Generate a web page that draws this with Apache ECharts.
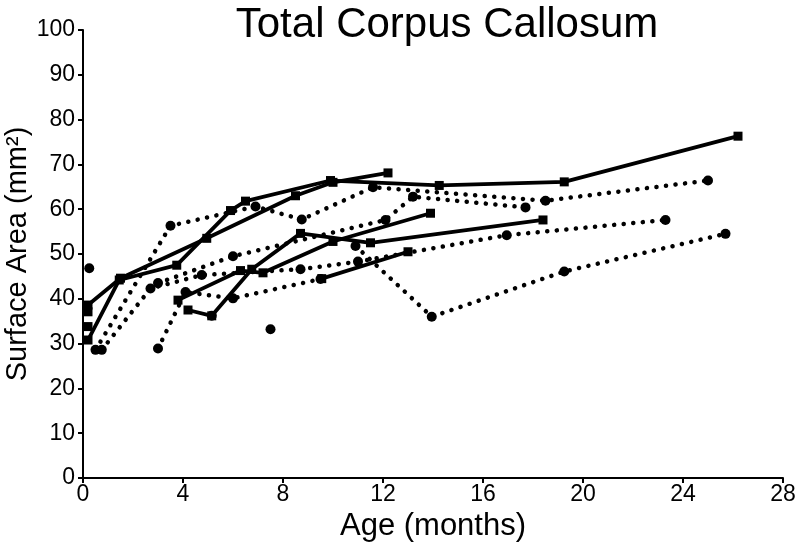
<!DOCTYPE html>
<html>
<head>
<meta charset="utf-8">
<script src="https://cdn.jsdelivr.net/npm/echarts@6/dist/echarts.min.js"></script>
<style>html,body{margin:0;padding:0;background:#fff;}#c{width:800px;height:543px;}</style>
</head>
<body>
<div id="c"></div>
<script>
// ---- data (age in months, surface area in mm^2) ----
const xTicks = [0, 4, 8, 12, 16, 20, 24, 28];
const yTicks = [0, 10, 20, 30, 40, 50, 60, 70, 80, 90, 100];

// solid lines with square markers
const solidA = [[0.2,38.6],[1.5,44.6],[4.95,53.5],[8.5,63.0],[10.0,66.0],[12.2,68.1]];
const solidB = [[0.2,30.8],[1.45,44.2],[3.75,47.5],[5.9,59.7],[6.5,61.8],[9.9,66.4],[14.25,65.3],[19.25,66.1],[26.2,76.3]];
const solidC = [[3.8,39.7],[6.3,46.3],[7.2,45.8],[10.0,52.8],[13.9,59.1]];
const solidD = [[4.2,37.5],[5.15,36.2],[6.75,46.6],[8.7,54.6],[11.5,52.5],[18.4,57.6]];
const solidE = [[9.55,44.5],[13.0,50.5]];
const squaresSingle = [[0.2,33.8],[0.2,37.1]];

// dotted lines with circle markers
const dottedA = [[0.5,28.6],[3.5,56.3],[6.9,60.6],[8.75,57.7],[11.6,64.9],[18.5,61.9],[25.0,66.4]];
const dottedB = [[0.75,28.6],[2.7,42.3],[4.75,45.3],[8.7,46.6],[11.0,48.3],[16.95,54.2],[23.3,57.6]];
const dottedC = [[3.0,28.9],[4.1,41.5],[6.0,40.1],[9.5,44.4]];
const dottedD = [[3.0,43.5],[6.0,49.5],[12.1,57.6],[13.2,62.8],[17.7,60.4]];
const dottedE = [[10.9,51.8],[13.95,36.0],[19.25,46.1],[25.7,54.5]];
const dotsSingle = [[0.25,46.8],[7.5,33.2],[5.15,36.2]];

const FONT = "'Liberation Sans',Arial,sans-serif";

function solid(data){
  return {type:'line', data:data, symbol:'rect', symbolSize:9, showSymbol:true,
    lineStyle:{color:'#000', width:3.8}, itemStyle:{color:'#000'}, z:3, animation:false};
}
function dotted(data){
  return {type:'line', data:data, symbol:'circle', symbolSize:10, showSymbol:true,
    lineStyle:{color:'#000', width:4.5, type:[0.1,9.5], cap:'round'}, itemStyle:{color:'#000'}, z:2, animation:false};
}

const chart = echarts.init(document.getElementById('c'), null, {renderer:'canvas'});
chart.setOption({
  backgroundColor:'#fff',
  animation:false,
  title:{text:'Total Corpus Callosum', left:442, top:-1, textAlign:'center',
    textStyle:{fontFamily:FONT, fontSize:42, fontWeight:'normal', color:'#000'}},
  grid:{left:83, right:17, top:30, bottom:65, containLabel:false, outerBoundsMode:'none'},
  xAxis:{type:'value', min:xTicks[0], max:xTicks[xTicks.length-1], interval:4,
    name:'Age (months)', nameLocation:'middle', nameGap:32,
    nameTextStyle:{fontFamily:FONT, fontSize:31, color:'#000'},
    axisLine:{lineStyle:{color:'#000', width:2}},
    axisTick:{show:true, length:5, lineStyle:{color:'#000', width:2}},
    axisLabel:{fontFamily:FONT, fontSize:23, color:'#000', margin:5},
    splitLine:{show:false}},
  yAxis:{type:'value', min:yTicks[0], max:yTicks[yTicks.length-1], interval:10,
    name:'Surface Area (mm\u00B2)', nameLocation:'middle', nameGap:51, nameRotate:90,
    nameMoveOverlap:false,
    nameTextStyle:{fontFamily:FONT, fontSize:29, color:'#000'},
    axisLine:{show:true, lineStyle:{color:'#000', width:2}},
    axisTick:{show:true, length:5, lineStyle:{color:'#000', width:2}},
    axisLabel:{fontFamily:FONT, fontSize:23, color:'#000', margin:8},
    splitLine:{show:false}},
  series:[
    dotted(dottedA), dotted(dottedB), dotted(dottedC), dotted(dottedD), dotted(dottedE),
    {type:'scatter', data:dotsSingle, symbol:'circle', symbolSize:10, itemStyle:{color:'#000', opacity:1}, animation:false},
    solid(solidA), solid(solidB), solid(solidC), solid(solidD), solid(solidE),
    {type:'scatter', data:squaresSingle, symbol:'rect', symbolSize:9, itemStyle:{color:'#000', opacity:1}, z:4, animation:false}
  ]
});
</script>
</body>
</html>
